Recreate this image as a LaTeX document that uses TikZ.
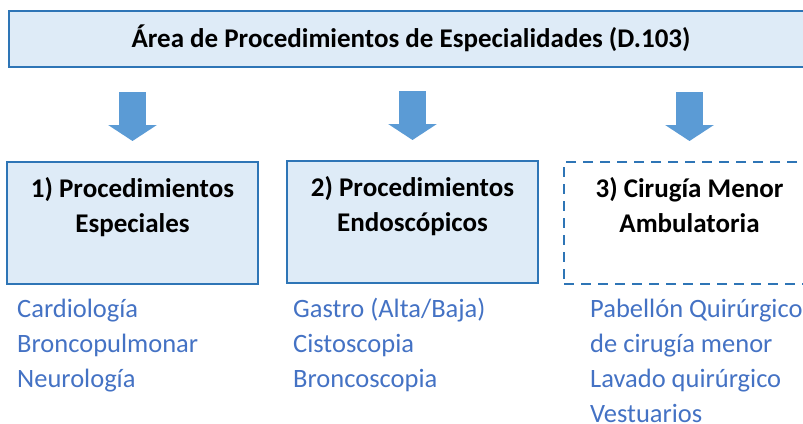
\documentclass[tikz,border=0pt]{standalone}
\usepackage{fontspec}
\setmainfont{Carlito}
\usetikzlibrary{arrows.meta,calc}
\definecolor{boxfill}{HTML}{DEEBF7}
\definecolor{boxline}{HTML}{2E75B6}
\definecolor{arrowc}{HTML}{5B9BD5}
\definecolor{listc}{HTML}{4472C4}
\begin{document}
\begin{tikzpicture}[x=1pt,y=-1pt,
  areabox/.style={draw=boxline, fill=boxfill, line width=2pt, inner sep=0pt, anchor=north west},
  dashbox/.style={draw=boxline, line width=2pt, dash pattern=on 10pt off 7pt, inner sep=0pt, anchor=north west},
  boxtext/.style={font=\fontsize{27}{32}\selectfont\bfseries, inner sep=0pt, anchor=base},
  listtext/.style={font=\fontsize{26.5}{32}\selectfont, text=listc, inner sep=0pt, anchor=base west},
  bigarrow/.style={draw=arrowc, line width=27pt, line cap=butt, -{Triangle[width=48pt,length=16pt]}}]
\useasboundingbox (0,0) rectangle (803,423);
% top box
\node[areabox, minimum width=806pt, minimum height=56pt] (top) at (8,10) {};
\node[boxtext] (title) at (411,47) {Área de Procedimientos de Especialidades (D.103)};
% child boxes
\node[areabox, minimum width=251pt, minimum height=122pt] (b1) at (6,161) {};
\node[areabox, minimum width=251pt, minimum height=122pt] (b2) at (286,160) {};
\node[dashbox, minimum width=251pt, minimum height=122pt] (b3) at (563,161) {};
% arrows
\foreach \b in {b1,b2,b3}{
  \draw[bigarrow] ($(\b.north)+(0,-69)$) -- ($(\b.north)+(0,-20)$);
}
% box texts
\node[boxtext] (t1a) at ($(b1.north)+(0,36)$) {1) Procedimientos};
\node[boxtext] (t1b) at ($(b1.north)+(0,71)$) {Especiales};
\node[boxtext] (t2a) at ($(b2.north)+(0,36)$) {2) Procedimientos};
\node[boxtext] (t2b) at ($(b2.north)+(0,71)$) {Endoscópicos};
\node[boxtext] (t3a) at ($(b3.north)+(0,36)$) {3) Cirugía Menor};
\node[boxtext] (t3b) at ($(b3.north)+(0,71)$) {Ambulatoria};
% lists
\node[listtext] (l1a) at (17,317) {Cardiología};
\node[listtext] (l1b) at (17,352) {Broncopulmonar};
\node[listtext] (l1c) at (17,387) {Neurología};
\node[listtext] (l2a) at (293,317) {Gastro (Alta/Baja)};
\node[listtext] (l2b) at (293,352) {Cistoscopia};
\node[listtext] (l2c) at (293,387) {Broncoscopia};
\node[listtext] (l3a) at (590,317) {Pabellón Quirúrgico};
\node[listtext] (l3b) at (590,352) {de cirugía menor};
\node[listtext] (l3c) at (590,387) {Lavado quirúrgico};
\node[listtext] (l3d) at (590,422) {Vestuarios};
\end{tikzpicture}
\end{document}
